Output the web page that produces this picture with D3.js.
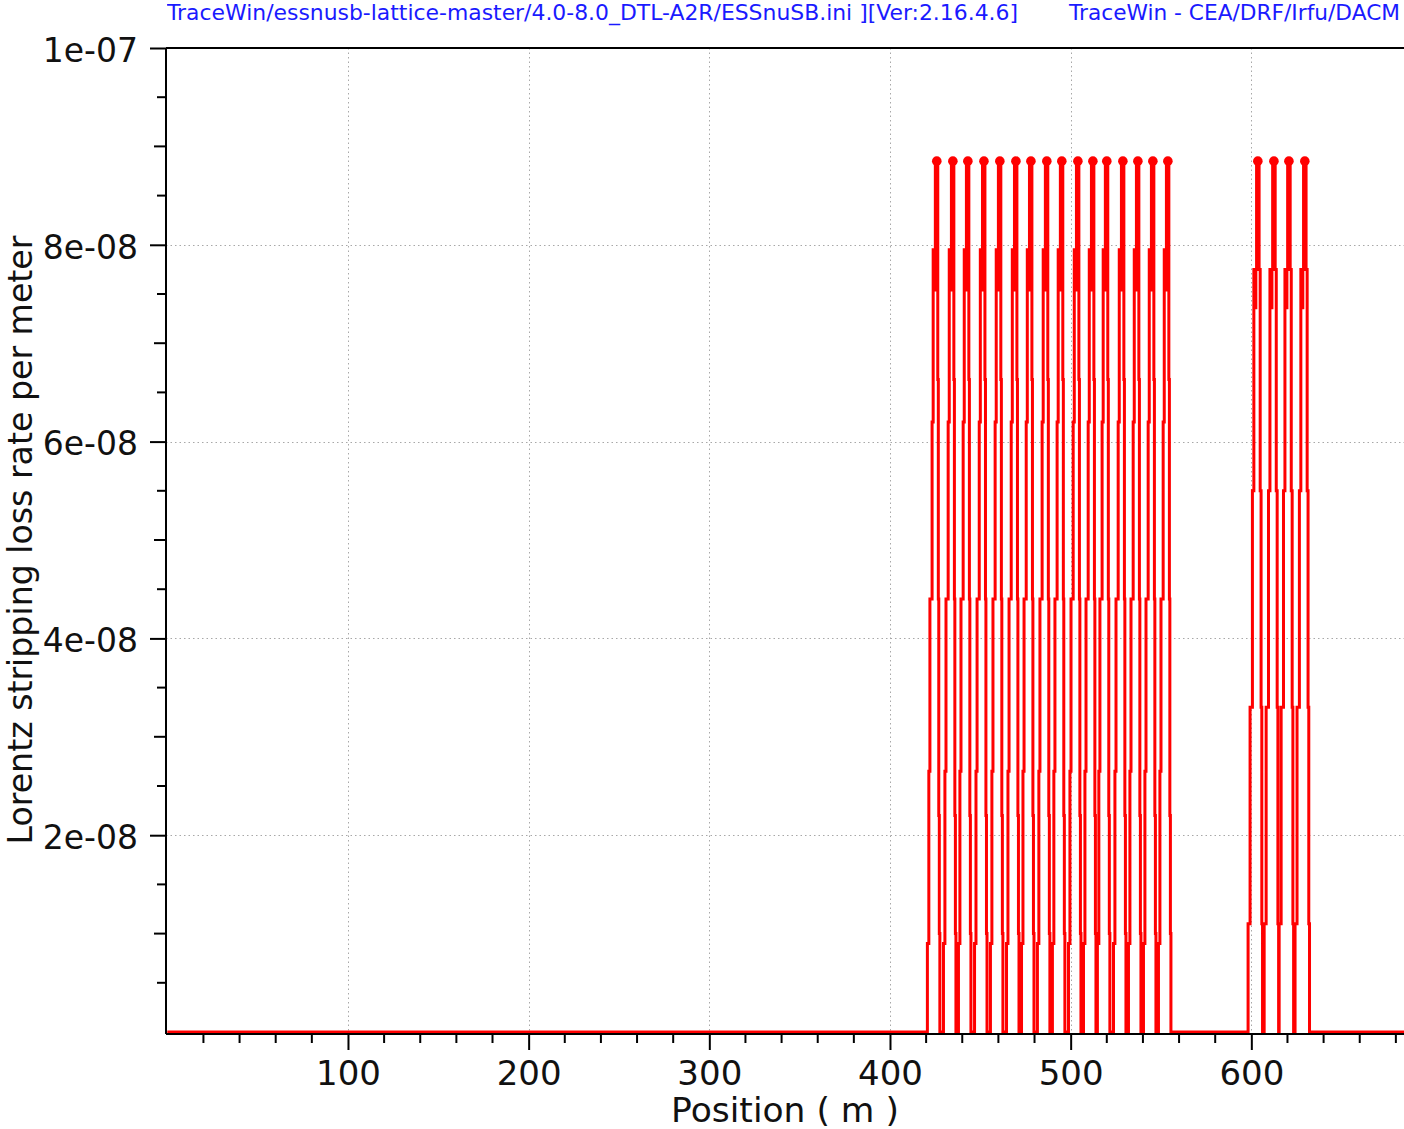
<!DOCTYPE html>
<html>
<head>
<meta charset="utf-8">
<script src="https://cdn.jsdelivr.net/npm/d3@7"></script>
<style>
  html, body { margin: 0; padding: 0; background: #fff; }
  svg { display: block; }
  text { font-family: "DejaVu Sans", sans-serif; }
</style>
</head>
<body>
<svg id="chart" width="1404" height="1129"></svg>
<script>
// ---- data ----------------------------------------------------------------
const xTickValues = [100, 200, 300, 400, 500, 600];
const yTickValues = [2e-8, 4e-8, 6e-8, 8e-8, 1e-7];
const yTickLabels = ["2e-08", "4e-08", "6e-08", "8e-08", "1e-07"];

// quadrupole positions (m) where the stripping rate peaks
const peakPositions = [
  425.9, 434.8, 443.1, 452.0, 460.8, 469.7, 478.0, 486.8,
  495.1, 504.0, 512.3, 520.0, 528.9, 537.2, 545.5, 553.8,
  603.6, 612.5, 620.8, 629.6
];
const peakValue = 8.85e-8;
// which step profile each quadrupole uses (0: first section, 1: second section)
const peakProfile = [0,0,0,0,0,0,0,0, 0,0,0,0,0,0,0,0, 1,1,1,1];

// step profiles: offset (m) from the peak centre and level reached after the step
const riseOffsets = [
  [-5.2, -4.4, -3.8, -2.6, -2.0, -1.5, -0.8],
  [-5.4, -4.3, -3.0, -2.2, -1.6, -1.1, -0.7]
];
const riseLevels = [
  [0.90e-8, 2.65e-8, 4.40e-8, 6.20e-8, 7.95e-8, 7.54e-8, 8.85e-8],
  [1.10e-8, 3.30e-8, 5.50e-8, 7.75e-8, 7.36e-8, 7.75e-8, 8.85e-8]
];
const fallOffsets = [
  [0.55, 0.85, 1.1, 1.4, 1.7],
  [0.7, 1.3, 1.8, 2.2, 2.6]
];
const fallLevels = [
  [6.63e-8, 4.40e-8, 2.20e-8, 1.00e-8, 0],
  [7.75e-8, 5.50e-8, 3.30e-8, 1.10e-8, 0]
];
const xStart = 0, xEnd = 684.5;

// ---- layout ----------------------------------------------------------------
const svg = d3.select("#chart");
const x = d3.scaleLinear().domain([0, 684.5]).range([167.3, 1404]);
const y = d3.scaleLinear().domain([0, 1e-7]).range([1032, 48]);
const plotLeft = 166, plotTop = 48, plotBottom = 1034, plotRight = 1404;
const labelSize = 33;

// grid
const grid = svg.append("g").attr("stroke", "#a8a8a8").attr("stroke-width", 1)
  .attr("stroke-dasharray", "1.5,3");
grid.selectAll("line.v").data(xTickValues).join("line")
  .attr("x1", d => Math.round(x(d)) + 0.5).attr("x2", d => Math.round(x(d)) + 0.5)
  .attr("y1", plotTop).attr("y2", plotBottom);
grid.selectAll("line.h").data(yTickValues).join("line")
  .attr("y1", d => Math.round(y(d)) + 0.5).attr("y2", d => Math.round(y(d)) + 0.5)
  .attr("x1", plotLeft).attr("x2", plotRight);

// build the stepped curve
const pts = [[xStart, 0]];
peakPositions.forEach((p, i) => {
  const k = peakProfile[i];
  let level = 0;
  riseOffsets[k].forEach((dx, j) => {
    pts.push([p + dx, level]);
    level = riseLevels[k][j];
    pts.push([p + dx, level]);
  });
  fallOffsets[k].forEach((dx, j) => {
    pts.push([p + dx, level]);
    level = fallLevels[k][j];
    pts.push([p + dx, level]);
  });
});
pts.push([xEnd, 0]);

const line = d3.line().x(d => x(d[0])).y(d => y(d[1]));
svg.append("path").datum(pts)
  .attr("d", line)
  .attr("fill", "none")
  .attr("stroke", "#ff0000")
  .attr("stroke-width", 3)
  .attr("stroke-linejoin", "miter");

svg.append("g").selectAll("circle").data(peakPositions).join("circle")
  .attr("cx", d => x(d)).attr("cy", y(peakValue)).attr("r", 4.8)
  .attr("fill", "#ff0000");

// frame
svg.append("line").attr("x1", plotLeft).attr("x2", plotRight)
  .attr("y1", plotTop).attr("y2", plotTop).attr("stroke", "#000").attr("stroke-width", 2);

// x axis
const xAxis = d3.axisBottom(x)
  .tickValues(xTickValues).tickSize(16).tickPadding(11).tickSizeOuter(0)
  .tickFormat(d3.format("d"));
const gx = svg.append("g").attr("transform", `translate(0,${plotBottom})`).call(xAxis);
gx.select(".domain").attr("stroke-width", 2).attr("d", `M${plotLeft},0H${plotRight}`);
gx.selectAll(".tick line").attr("stroke-width", 2);
gx.selectAll(".tick text").attr("font-size", 34).attr("fill", "#111")
  .attr("font-family", "DejaVu Sans");
const xMinor = d3.range(20, 685, 20).filter(v => v % 100 !== 0);
gx.selectAll("line.minor").data(xMinor).join("line")
  .attr("x1", d => x(d)).attr("x2", d => x(d)).attr("y1", 0).attr("y2", 9)
  .attr("stroke", "#000").attr("stroke-width", 2);

// y axis
const yAxis = d3.axisLeft(y)
  .tickValues(yTickValues).tickSize(16).tickPadding(12).tickSizeOuter(0)
  .tickFormat((d, i) => yTickLabels[i]);
const gy = svg.append("g").attr("transform", `translate(${plotLeft},0)`).call(yAxis);
gy.select(".domain").attr("stroke-width", 2).attr("d", `M0,${plotTop}V${plotBottom}`);
gy.selectAll(".tick line").attr("stroke-width", 2);
gy.selectAll(".tick text").attr("font-size", labelSize).attr("fill", "#111")
  .attr("dy", "0.4em").attr("font-family", "DejaVu Sans");
const yMid = d3.range(1, 10, 2).map(v => v * 1e-8);
const yMinor = d3.range(1, 20, 2).map(v => v * 5e-9);
gy.selectAll("line.mid").data(yMid).join("line")
  .attr("x1", -12).attr("x2", 0).attr("y1", d => y(d)).attr("y2", d => y(d))
  .attr("stroke", "#000").attr("stroke-width", 2);
gy.selectAll("line.minor").data(yMinor).join("line")
  .attr("x1", -9).attr("x2", 0).attr("y1", d => y(d)).attr("y2", d => y(d))
  .attr("stroke", "#000").attr("stroke-width", 2);

// axis titles
svg.append("text").attr("x", 785).attr("y", 1122).attr("text-anchor", "middle")
  .attr("font-size", 34.5).attr("fill", "#111").text("Position ( m )");
svg.append("text").attr("transform", "translate(32,540) rotate(-90)")
  .attr("text-anchor", "middle").attr("font-size", 33.2).attr("fill", "#111")
  .text("Lorentz stripping loss rate per meter");

// header
svg.append("clipPath").attr("id", "hdrclip").append("rect")
  .attr("x", 167).attr("y", 0).attr("width", 900).attr("height", 40);
svg.append("text").attr("clip-path", "url(#hdrclip)")
  .attr("x", 1018).attr("y", 20).attr("text-anchor", "end")
  .attr("font-size", 21.9).attr("fill", "#1a1aff")
  .text("/TraceWin/essnusb-lattice-master/4.0-8.0_DTL-A2R/ESSnuSB.ini ][Ver:2.16.4.6]");
svg.append("text").attr("x", 1400).attr("y", 20).attr("text-anchor", "end")
  .attr("font-size", 21.7).attr("fill", "#1a1aff")
  .text("TraceWin - CEA/DRF/Irfu/DACM");
</script>
</body>
</html>
